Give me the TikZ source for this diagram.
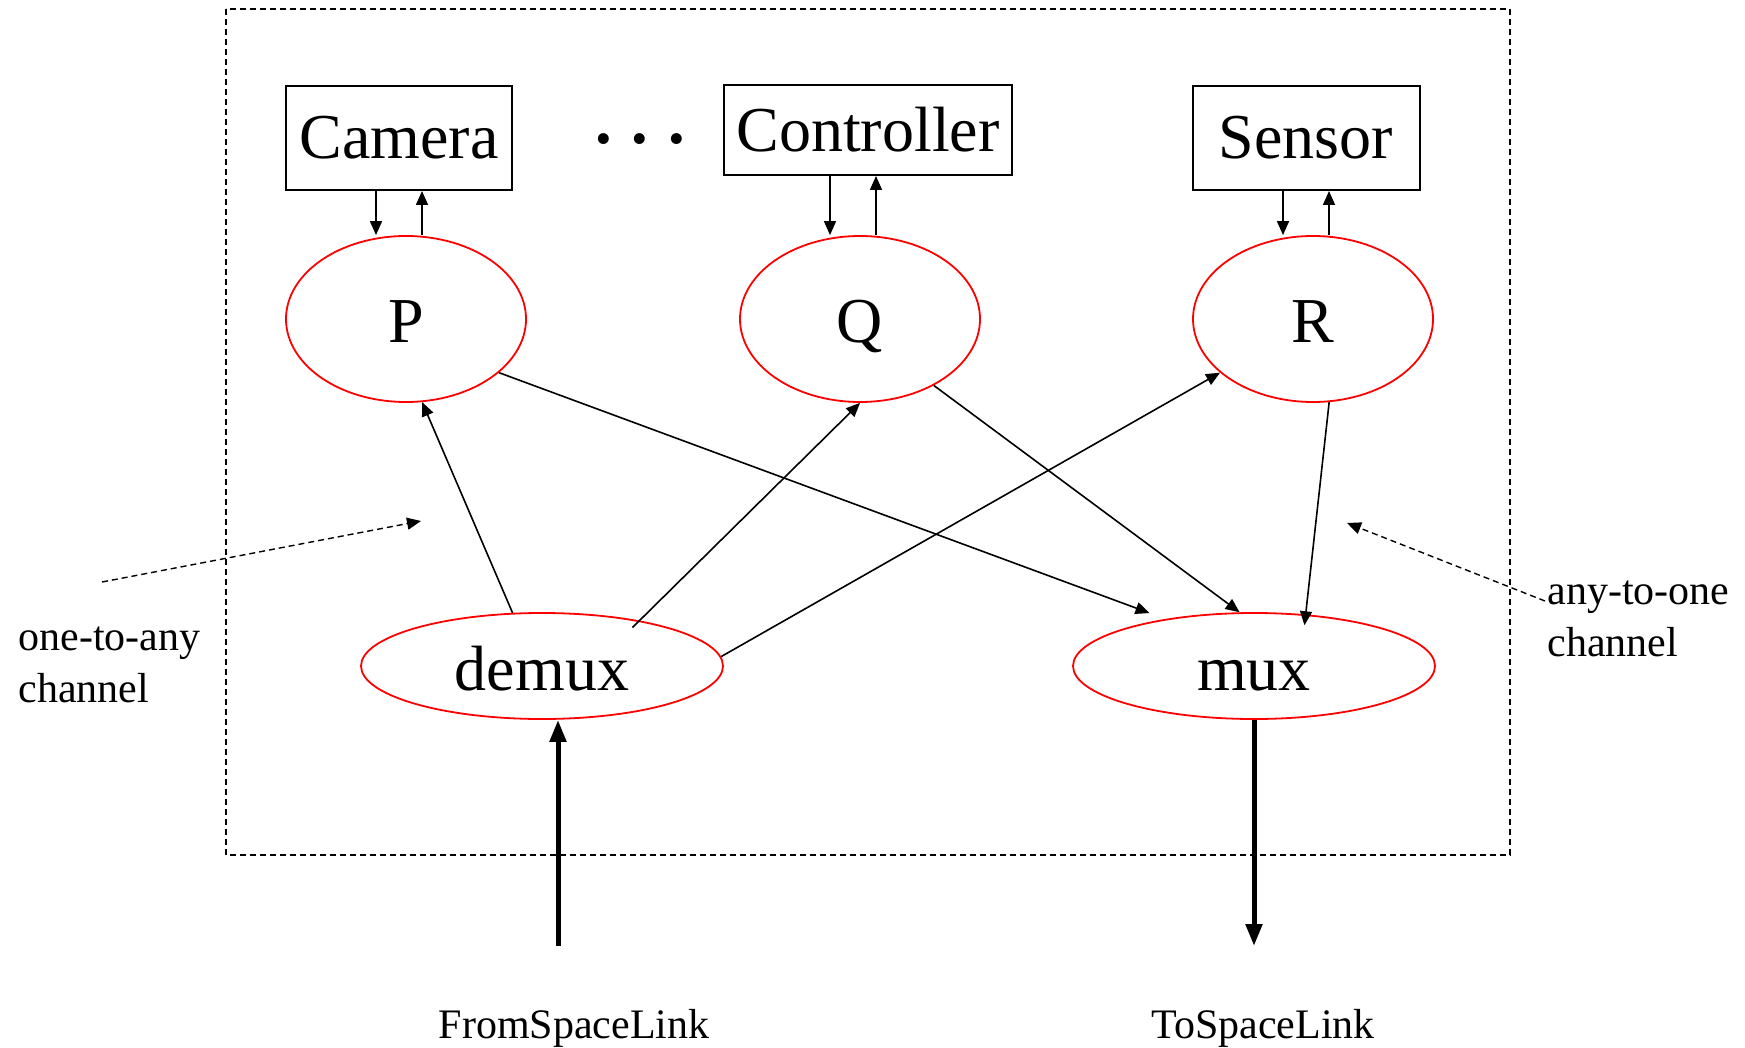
\documentclass[tikz,border=0pt]{standalone}
\usepackage{fontspec}
\setmainfont{Liberation Serif}
\usetikzlibrary{arrows.meta,shapes.geometric}

\begin{document}
\begin{tikzpicture}[x=0.5pt,y=-0.5pt,
  dev/.style={draw,line width=1pt,inner sep=2pt,font=\fontsize{32}{38}\selectfont},
  proc/.style={draw=red,ellipse,line width=0.9pt,inner sep=0pt,text height=26pt,text depth=2pt,
    font=\fontsize{32}{38}\selectfont},
  link/.style={-{Triangle[length=7pt,width=6pt]},line width=0.8pt},
  bigarrow/.style={-{Triangle[length=11pt,width=8pt]},line width=2.5pt},
  note/.style={dash pattern=on 3pt off 2pt,line width=0.7pt},
  lbl/.style={font=\fontsize{21}{26}\selectfont,align=left,inner sep=0pt}]
  \useasboundingbox (0,0) rectangle (1745,1048);

  % system boundary
  \draw[note] (226,9) rectangle (1510,855);

  % devices
  \node[dev,minimum width=113pt,minimum height=52pt] (cam) at (399,138) {Camera};
  \node[dev,minimum width=144pt,minimum height=45pt] (ctrl) at (868,130) {Controller};
  \node[dev,minimum width=113.5pt,minimum height=52pt] (sens) at (1306,138) {Sensor};
  \node[anchor=base,inner sep=0pt,font=\fontsize{46}{46}\selectfont] (dots) at (640,170)
    {·\hspace{3pt}·\hspace{3pt}·};

  % processes
  \node[proc,minimum width=120pt,minimum height=83pt] (P) at (406,319) {P};
  \node[proc,minimum width=120pt,minimum height=83pt] (Q) at (860,319) {Q};
  \node[proc,minimum width=120pt,minimum height=83pt] (R) at (1313,319) {R};
  \node[proc,minimum width=181pt,minimum height=53pt] (demux) at (542,666) {demux};
  \node[proc,minimum width=181pt,minimum height=53pt] (mux) at (1254,666) {mux};

  % device <-> process
  \foreach \p/\d in {P/cam,Q/ctrl,R/sens}{
    \draw[link] ([xshift=-15pt]\p.north |- \d.south) -- ([xshift=-15pt]\p.north);
    \draw[link] ([xshift=8pt]\p.north) -- ([xshift=8pt]\p.north |- \d.south);
  }

  % channels
  \draw[link] (demux.119) -- (P.-79);
  \draw[link,shorten <=-5pt] (demux.25) -- (Q.-90);
  \draw[link] (demux.3) -- (R.210);
  \draw[link,shorten >=8.5pt] (P.-30) -- (mux.152);
  \draw[link] (Q.-42) -- (mux.105);
  \draw[link,shorten >=-5.5pt] (R.-79) -- (mux.45);

  % space link
  \coordinate (fin) at (558,946);
  \coordinate (fout) at (1254,946);
  \draw[bigarrow] (fin) -- ([xshift=8pt]demux.south);
  \draw[bigarrow] (mux.south) -- (fout);
  \node[lbl] (from) at (574,1028) {FromSpaceLink};
  \node[lbl] (to) at (1263,1028) {ToSpaceLink};

  % channel notes
  \node[lbl,anchor=west] (oto) at (18,665) {one-to-any\\channel};
  \node[lbl,anchor=west] (ato) at (1547,619) {any-to-one\\channel};
  \coordinate (n1s) at (102,582);
  \coordinate (n1) at (421,521);
  \coordinate (n2s) at (1545,601);
  \coordinate (n2) at (1347,523);
  \draw[note,-{Triangle[length=7pt,width=6pt]}] (n1s) -- (n1);
  \draw[note,-{Triangle[length=7pt,width=6pt]}] (n2s) -- (n2);
\end{tikzpicture}
\end{document}
